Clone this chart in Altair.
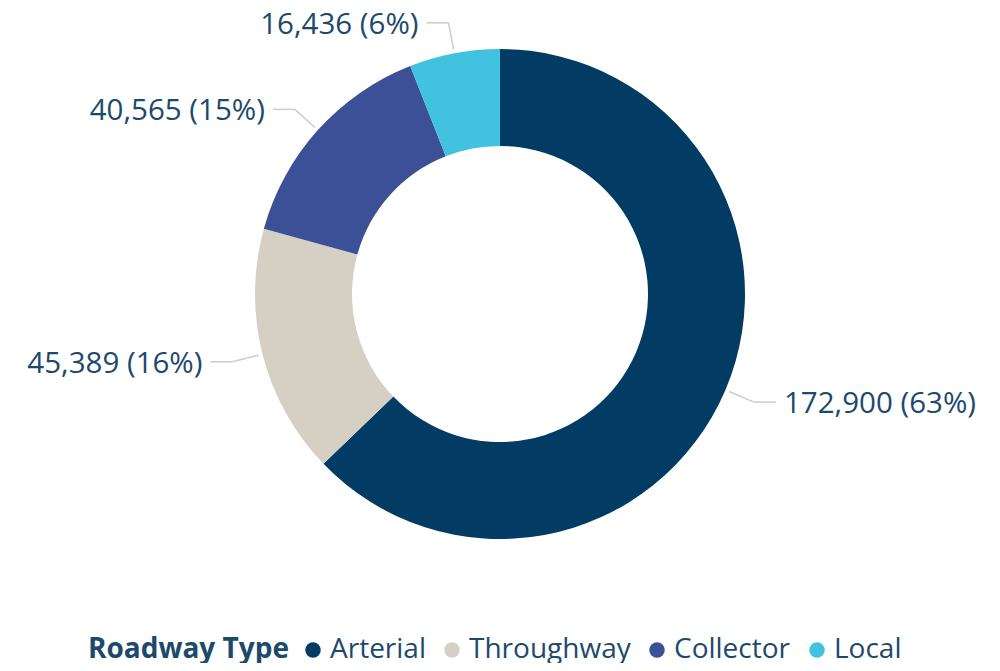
import math
import altair as alt
import pandas as pd

categories = ["Arterial", "Throughway", "Collector", "Local"]
values = [172900, 45389, 40565, 16436]
colors = ["#023B64", "#D5D0C3", "#3B5096", "#41C3E0"]

FONT = "Open Sans"
TEXT_COLOR = "#1D4A6C"
W, H = 984, 655
CX, CY = 492, 286
R_OUT, R_IN = 245, 148
R_START, R_ELBOW, HLEN, GAP = 249, 276, 22, 8

total = sum(values)
rows, segs = [], []
cum = 0
for i, (c, v) in enumerate(zip(categories, values)):
    mid = (cum + v / 2) / total * 2 * math.pi
    cum += v
    s, co = math.sin(mid), math.cos(mid)
    x0, y0 = CX + R_START * s, CY - R_START * co
    x1, y1 = CX + R_ELBOW * s, CY - R_ELBOW * co
    side = 1 if s >= 0 else -1
    x2 = x1 + side * HLEN
    segs.append(dict(cat=c, x=x0, y=y0, x2=x1, y2=y1))
    segs.append(dict(cat=c, x=x1, y=y1, x2=x2, y2=y1))
    pct = round(v / total * 100)
    rows.append(dict(cat=c, value=v, order=i,
                     label=f"{v:,} ({pct}%)",
                     tx=x2 + side * GAP, ty=y1 + 2, side="right" if side > 0 else "left"))

df = pd.DataFrame(rows)
seg_df = pd.DataFrame(segs)

xs = alt.Scale(domain=[0, W], nice=False, zero=False)
ys = alt.Scale(domain=[0, H], nice=False, zero=False, reverse=True)

donut = alt.Chart(df).mark_arc(outerRadius=R_OUT, innerRadius=R_IN).encode(
    theta=alt.Theta("value:Q", stack=True),
    order=alt.Order("order:Q"),
    color=alt.Color("cat:N", title="Roadway Type",
                    scale=alt.Scale(domain=categories, range=colors),
                    sort=categories),
    x=alt.value(CX),
    y=alt.value(CY),
)

leaders = alt.Chart(seg_df).mark_rule(color="#C9CCD1", strokeWidth=1.5).encode(
    x=alt.X("x:Q", scale=xs, axis=None),
    y=alt.Y("y:Q", scale=ys, axis=None),
    x2="x2:Q",
    y2="y2:Q",
)

text_right = alt.Chart(df).transform_filter(alt.datum.side == "right").mark_text(
    align="left", baseline="middle", font=FONT, fontSize=29.5, color=TEXT_COLOR
).encode(
    x=alt.X("tx:Q", scale=xs, axis=None),
    y=alt.Y("ty:Q", scale=ys, axis=None),
    text="label:N",
)

text_left = alt.Chart(df).transform_filter(alt.datum.side == "left").mark_text(
    align="right", baseline="middle", font=FONT, fontSize=29.5, color=TEXT_COLOR
).encode(
    x=alt.X("tx:Q", scale=xs, axis=None),
    y=alt.Y("ty:Q", scale=ys, axis=None),
    text="label:N",
)

chart = alt.layer(donut, leaders, text_right, text_left).properties(
    width=W, height=H, autosize=alt.AutoSizeParams(type="none"), padding=0
).configure_view(strokeWidth=0).configure_legend(
    orient="none", legendX=80, legendY=628, direction="horizontal",
    titleOrient="left", titleFont=FONT, titleFontSize=28, titleFontWeight="bold",
    titleColor=TEXT_COLOR, titlePadding=10, titleBaseline="middle", titleLimit=500,
    labelFont=FONT, labelFontSize=28, labelColor=TEXT_COLOR, labelOffset=3,
    labelLimit=400,
    symbolType="circle", symbolSize=240, symbolStrokeWidth=0, columnPadding=12,
)

chart.save("out.html", embed_options={"renderer": "svg", "actions": False})
